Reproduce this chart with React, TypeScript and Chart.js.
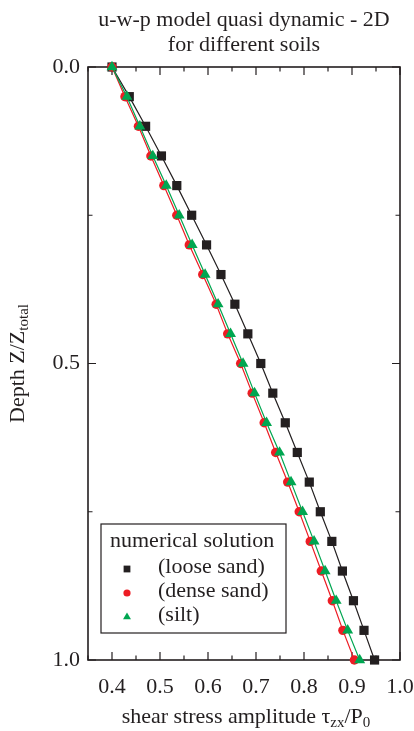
import { useEffect, useRef } from 'react';
import { Chart, registerables } from 'chart.js';

Chart.register(...registerables);

// ---- data ----
const depth = [0, 0.05, 0.1, 0.15, 0.2, 0.25, 0.3, 0.35, 0.4, 0.45, 0.5, 0.55, 0.6, 0.65, 0.7, 0.75, 0.8, 0.85, 0.9, 0.95, 1.0];
const looseSand = [0.400, 0.436, 0.470, 0.503, 0.535, 0.566, 0.597, 0.627, 0.656, 0.683, 0.710, 0.735, 0.761, 0.786, 0.811, 0.834, 0.858, 0.880, 0.903, 0.925, 0.947];
const denseSand = [0.400, 0.427, 0.455, 0.481, 0.508, 0.535, 0.561, 0.589, 0.617, 0.641, 0.668, 0.692, 0.717, 0.741, 0.766, 0.790, 0.813, 0.836, 0.859, 0.881, 0.905];
const silt = [0.400, 0.431, 0.458, 0.485, 0.513, 0.540, 0.567, 0.594, 0.621, 0.647, 0.673, 0.697, 0.722, 0.749, 0.773, 0.797, 0.821, 0.844, 0.867, 0.891, 0.916];

const seriesLabels = ['(loose sand)', '(dense sand)', '(silt)'];
const legendTitle = 'numerical solution';
const titleLines = ['u-w-p model quasi dynamic - 2D', 'for different soils'];

const xTicks = [0.4, 0.5, 0.6, 0.7, 0.8, 0.9, 1.0];
const xMinorTicks = [0.35, 0.45, 0.55, 0.65, 0.75, 0.85, 0.95];
const yTicks = [0, 0.5, 1.0];
const yMinorTicks = [0.25, 0.75];

const INK = '#231f20';
const RED = '#ed1c24';
const GREEN = '#00a651';
const FONT = '"Liberation Serif", "Times New Roman", serif';

type Part = { t: string; sub?: boolean };

function drawRich(ctx: CanvasRenderingContext2D, parts: Part[], x: number, y: number, size: number, subSize: number, subShift: number) {
  let total = 0;
  const widths = parts.map((p) => {
    ctx.font = `${p.sub ? subSize : size}px ${FONT}`;
    const w = ctx.measureText(p.t).width;
    total += w;
    return w;
  });
  let cx = x - total / 2;
  parts.forEach((p, i) => {
    ctx.font = `${p.sub ? subSize : size}px ${FONT}`;
    ctx.fillText(p.t, cx, y + (p.sub ? subShift : 0));
    cx += widths[i];
  });
}

function drawMarker(ctx: CanvasRenderingContext2D, style: string, x: number, y: number, r: number, color: string) {
  ctx.fillStyle = color;
  ctx.beginPath();
  if (style === 'rect') {
    const s = r * Math.SQRT1_2;
    ctx.rect(x - s, y - s, 2 * s, 2 * s);
  } else if (style === 'circle') {
    ctx.arc(x, y, r, 0, Math.PI * 2);
  } else {
    ctx.moveTo(x, y - r);
    ctx.lineTo(x + r * Math.sin((2 * Math.PI) / 3), y - r * Math.cos((2 * Math.PI) / 3));
    ctx.lineTo(x + r * Math.sin((4 * Math.PI) / 3), y - r * Math.cos((4 * Math.PI) / 3));
    ctx.closePath();
  }
  ctx.fill();
}

const decorPlugin = {
  id: 'decor',
  beforeDatasetsDraw(chart: any) {
    const { ctx, chartArea: a, scales } = chart;
    const x = scales.x;
    const y = scales.y;
    ctx.save();
    ctx.strokeStyle = INK;
    ctx.lineWidth = 1.2;
    const majorLen = 8;
    const minorLen = 4.5;
    const vtick = (v: number, len: number) => {
      const px = x.getPixelForValue(v);
      ctx.beginPath();
      ctx.moveTo(px, a.bottom);
      ctx.lineTo(px, a.bottom - len);
      ctx.moveTo(px, a.top);
      ctx.lineTo(px, a.top + len);
      ctx.stroke();
    };
    const htick = (v: number, len: number) => {
      const py = y.getPixelForValue(v);
      ctx.beginPath();
      ctx.moveTo(a.left, py);
      ctx.lineTo(a.left + len, py);
      ctx.moveTo(a.right, py);
      ctx.lineTo(a.right - len, py);
      ctx.stroke();
    };
    xTicks.forEach((v) => vtick(v, majorLen));
    xMinorTicks.forEach((v) => vtick(v, minorLen));
    yTicks.forEach((v) => htick(v, majorLen));
    yMinorTicks.forEach((v) => htick(v, minorLen));
    ctx.lineWidth = 1.6;
    ctx.strokeRect(a.left, a.top, a.right - a.left, a.bottom - a.top);
    ctx.restore();
  },
  afterDatasetsDraw(chart: any) {
    const { ctx, chartArea: a } = chart;
    ctx.save();
    // legend box
    const lx = a.left + 13;
    const ly = a.top + 457;
    const lw = 185;
    const lh = 109;
    ctx.fillStyle = '#ffffff';
    ctx.fillRect(lx, ly, lw, lh);
    ctx.strokeStyle = INK;
    ctx.lineWidth = 1.2;
    ctx.strokeRect(lx, ly, lw, lh);
    ctx.fillStyle = INK;
    ctx.font = `22px ${FONT}`;
    ctx.textAlign = 'left';
    ctx.textBaseline = 'alphabetic';
    ctx.fillText(legendTitle, lx + 9, ly + 23);
    const styles = ['rect', 'circle', 'triangle'];
    const colors = [INK, RED, GREEN];
    const radii = [4.8, 3.6, 4.6];
    chart.data.datasets.forEach((ds: any, i: number) => {
      const rowY = ly + 45 + i * 24;
      drawMarker(ctx, styles[i], lx + 26, rowY, radii[i], colors[i]);
      ctx.fillStyle = INK;
      ctx.font = `22px ${FONT}`;
      ctx.fillText(ds.label, lx + 57, rowY + 4);
    });
    ctx.restore();
  },
  afterDraw(chart: any) {
    const { ctx, chartArea: a } = chart;
    ctx.save();
    ctx.fillStyle = INK;
    ctx.textBaseline = 'alphabetic';
    const cx = (a.left + a.right) / 2;
    ctx.font = `22px ${FONT}`;
    ctx.textAlign = 'center';
    ctx.fillText(titleLines[0], cx, 26);
    ctx.fillText(titleLines[1], cx, 51);
    ctx.textAlign = 'left';
    // x axis title
    drawRich(ctx, [
      { t: 'shear stress amplitude \u03c4' },
      { t: 'zx', sub: true },
      { t: '/P' },
      { t: '0', sub: true },
    ], cx + 2, 723, 22, 15, 4);
    // y axis title
    ctx.translate(24, (a.top + a.bottom) / 2);
    ctx.rotate(-Math.PI / 2);
    drawRich(ctx, [
      { t: 'Depth Z/Z' },
      { t: 'total', sub: true },
    ], 0, 0, 22, 15, 4);
    ctx.restore();
  },
};

export default function App() {
  const ref = useRef<HTMLCanvasElement | null>(null);
  useEffect(() => {
    if (!ref.current) return;
    const mk = (data: number[]) => data.map((v, i) => ({ x: v, y: depth[i] }));
    const chart = new Chart(ref.current, {
      type: 'scatter',
      data: {
        datasets: [
          {
            label: seriesLabels[0],
            data: mk(looseSand),
            order: 3,
            showLine: true,
            borderColor: INK,
            backgroundColor: INK,
            borderWidth: 1.2,
            pointStyle: 'rect',
            pointRadius: 6.5,
            pointBorderWidth: 0,
            clip: false,
          },
          {
            label: seriesLabels[1],
            data: mk(denseSand),
            order: 2,
            showLine: true,
            borderColor: RED,
            backgroundColor: RED,
            borderWidth: 1.2,
            pointStyle: 'circle',
            pointRadius: 4.7,
            pointBorderWidth: 0,
            clip: false,
          },
          {
            label: seriesLabels[2],
            data: mk(silt),
            order: 1,
            showLine: true,
            borderColor: GREEN,
            backgroundColor: GREEN,
            borderWidth: 1.2,
            pointStyle: 'triangle',
            pointRadius: 6.3,
            pointBorderWidth: 0,
            clip: false,
          },
        ],
      },
      options: {
        responsive: false,
        animation: false,
        events: [],
        layout: { padding: { top: 67, right: 14, left: 0, bottom: 0 } },
        plugins: {
          legend: { display: false },
          title: { display: false },
          tooltip: { enabled: false },
        },
        scales: {
          x: {
            type: 'linear',
            min: 0.35,
            max: 1.0,
            afterBuildTicks: (s: any) => {
              s.ticks = xTicks.map((v) => ({ value: v }));
            },
            afterFit: (s: any) => {
              s.height = 71;
              s.paddingLeft = 0;
              s.paddingRight = 0;
            },
            grid: { display: false, drawTicks: false },
            border: { display: false },
            ticks: {
              padding: 14,
              autoSkip: false,
              maxRotation: 0,
              color: INK,
              font: { family: FONT, size: 22 },
              callback: (v: any) => Number(v).toFixed(1),
            },
          },
          y: {
            type: 'linear',
            min: 0,
            max: 1,
            reverse: true,
            afterBuildTicks: (s: any) => {
              s.ticks = yTicks.map((v) => ({ value: v }));
            },
            afterFit: (s: any) => {
              s.width = 88;
              s.paddingTop = 0;
              s.paddingBottom = 0;
            },
            grid: { display: false, drawTicks: false },
            border: { display: false },
            ticks: {
              padding: 8,
              autoSkip: false,
              color: INK,
              font: { family: FONT, size: 22 },
              callback: (v: any) => Number(v).toFixed(1),
            },
          },
        },
      },
      plugins: [decorPlugin],
    });
    return () => chart.destroy();
  }, []);
  return (
    <div style={{ position: 'fixed', left: 0, top: 0, width: 414, height: 731, background: '#ffffff' }}>
      <canvas ref={ref} width={414} height={731} style={{ display: 'block' }} />
    </div>
  );
}
